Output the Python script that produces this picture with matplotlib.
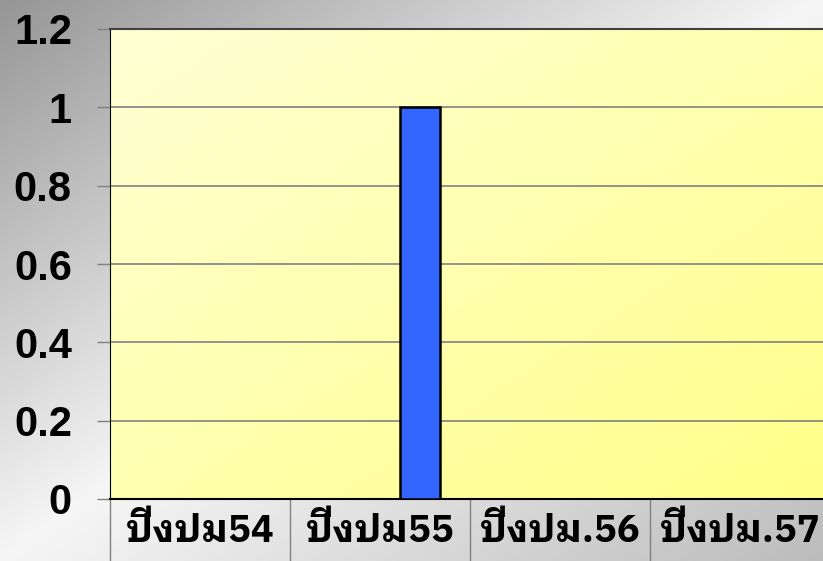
import numpy as np
import matplotlib
matplotlib.use("Agg")
from matplotlib import pyplot as plt
from matplotlib import font_manager, ft2font

categories = ["ปีงปม54", "ปีงปม55", "ปีงปม.56", "ปีงปม.57"]
series_1 = [0, 0, 0, 0]
series_2 = [0, 0, 0, 0]
series_3 = [0, 1, 0, 0]
series_colors = ["#3366FF", "#993366", "#3366FF"]
y_ticks = [0, 0.2, 0.4, 0.6, 0.8, 1, 1.2]
y_tick_labels = ["0", "0.2", "0.4", "0.6", "0.8", "1", "1.2"]


def find_thai_font():
    # look for an installed font that has Thai glyphs, bold first
    found = []
    for f in font_manager.fontManager.ttflist:
        try:
            cmap = ft2font.FT2Font(f.fname).get_charmap()
        except Exception:
            continue
        if 0x0E1B in cmap and 0x0E35 in cmap:
            w = f.weight if isinstance(f.weight, int) else (700 if 'bold' in str(f.weight) else 400)
            score = (w >= 600) * 2 + ('Sans' in f.name) + (f.style == 'normal')
            found.append((score, f.name))
    if not found:
        return None
    found.sort(reverse=True)
    return found[0][1]


thai = find_thai_font()
thai_family = ([thai] if thai else []) + ["Liberation Sans", "DejaVu Sans"]

W, H = 823, 561
fig = plt.figure(figsize=(W / 100, H / 100), dpi=100)

# figure background: diagonal gray gradient
bg = fig.add_axes([0, 0, 1, 1], zorder=-5)
xx, yy = np.meshgrid(np.linspace(0, 1, 300), np.linspace(0, 1, 200))
t = (xx + yy) / 2
v = np.interp(t, [0, 0.5, 1], [150, 246, 188]) / 255
bg.imshow(np.dstack([v, v, v]), extent=[0, 1, 0, 1], aspect='auto', origin='upper')
bg.axis('off')

left, right = 110 / W, 830 / W
bottom, top = 1 - 499 / H, 1 - 29 / H
ax = fig.add_axes([left, bottom, right - left, top - bottom])
ax.set_facecolor('none')

# plot area: light yellow to stronger yellow
gx, gy = np.meshgrid(np.linspace(0, 1, 300), np.linspace(0, 1, 200))
g = (gx + gy) / 2
b = (214 - 78 * g) / 255
grad = np.dstack([np.ones_like(b), np.ones_like(b), b])
ax.imshow(grad, extent=[0, 1, 0, 1], transform=ax.transAxes, aspect='auto',
          origin='upper', zorder=0)

n = len(categories)
x = np.arange(n)
bw = 40 / 180
for i, vals in enumerate([series_1, series_2, series_3]):
    ax.bar(x + (i - 1) * bw, vals, width=bw, color=series_colors[i],
           edgecolor='black', linewidth=1.8, zorder=3)

ax.set_xlim(-0.5, n - 0.5)
ax.set_ylim(0, 1.2)
ax.set_yticks(y_ticks)
ax.set_yticklabels(y_tick_labels)
ax.yaxis.grid(True, color='#808080', linewidth=1.2, zorder=1)
ax.set_axisbelow(True)

ax.tick_params(axis='y', length=9.5, width=1, color='#808080', pad=18)
for lab in ax.get_yticklabels():
    lab.set_fontsize(30)
    lab.set_fontweight('bold')
    lab.set_family(['Liberation Sans', 'DejaVu Sans'])

ax.set_xticks(np.arange(n + 1) - 0.5)
ax.set_xticklabels([])
ax.tick_params(axis='x', which='major', length=45, width=1, color='#808080')
ax.set_xticks(x, minor=True)
ax.set_xticklabels(categories, minor=True)
ax.tick_params(axis='x', which='minor', length=0, pad=10)
for lab in ax.get_xticklabels(minor=True):
    lab.set_fontsize(27.5)
    lab.set_fontweight('bold')
    lab.set_family(thai_family)

ax.spines['left'].set_color('black')
ax.spines['bottom'].set_color('black')
ax.spines['bottom'].set_linewidth(1.5)
ax.spines['top'].set_color('#404040')
ax.spines['top'].set_linewidth(1.5)
ax.spines['right'].set_visible(False)

fig.savefig("out.png", dpi=100)
